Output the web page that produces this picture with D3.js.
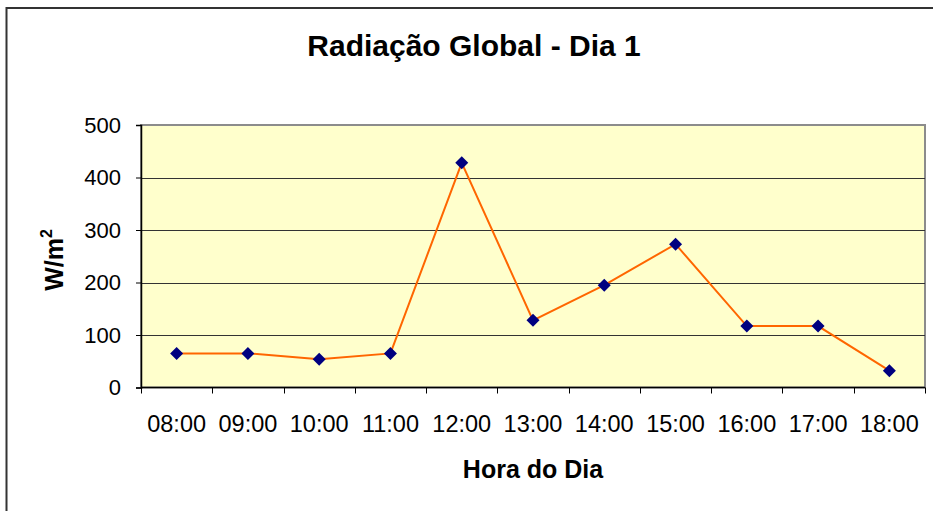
<!DOCTYPE html>
<html>
<head>
<meta charset="utf-8">
<script src="https://cdn.jsdelivr.net/npm/d3@7"></script>
<style>
  html, body { margin: 0; padding: 0; background: #fff; }
  svg { display: block; font-family: "Liberation Sans", Arial, sans-serif; }
</style>
</head>
<body>
<svg id="chart" width="933" height="511"></svg>
<script>
// Hourly global radiation, day 1
const hours = ["08:00", "09:00", "10:00", "11:00", "12:00", "13:00", "14:00", "15:00", "16:00", "17:00", "18:00"];
const radiation = [65, 65, 54, 65, 428, 128, 195, 273, 117, 117, 32];
const yTicks = [0, 100, 200, 300, 400, 500];

const svg = d3.select("#chart");
const W = 933, H = 511;
const plot = { left: 141, top: 125, right: 925, bottom: 387.5 };

// chart frame
svg.append("rect").attr("x", 6.5).attr("y", 8).attr("width", W).attr("height", H)
  .attr("fill", "#fff").attr("stroke", "#333").attr("stroke-width", 2);

const x = d3.scaleBand().domain(hours).range([plot.left, plot.right]).padding(0);
const y = d3.scaleLinear().domain([0, 500]).range([plot.bottom, plot.top]);

// plot area background
svg.append("rect")
  .attr("x", plot.left).attr("y", plot.top)
  .attr("width", plot.right - plot.left).attr("height", plot.bottom - plot.top)
  .attr("fill", "#FFFFCC").attr("stroke", "#8c8c8c").attr("stroke-width", 2);

// horizontal gridlines
svg.append("g").selectAll("line").data(yTicks.filter(d => d > 0 && d < 500)).join("line")
  .attr("x1", plot.left).attr("x2", plot.right)
  .attr("y1", d => Math.round(y(d)) + 0.5).attr("y2", d => Math.round(y(d)) + 0.5)
  .attr("stroke", "#333").attr("stroke-width", 1);

// y axis
const yAxis = svg.append("g").attr("transform", `translate(${plot.left},0)`)
  .call(d3.axisLeft(y).tickValues(yTicks).tickSize(5).tickPadding(15));
yAxis.select(".domain").attr("stroke", "#000").attr("stroke-width", 1.5);
yAxis.selectAll(".tick line").attr("stroke", "#000");
yAxis.selectAll(".tick text").attr("font-size", 22).attr("fill", "#000")
  .attr("font-family", "Liberation Sans, Arial, sans-serif");

// x axis: ticks on category boundaries
const xAxisG = svg.append("g").attr("transform", `translate(0,${plot.bottom})`);
xAxisG.append("line").attr("x1", plot.left).attr("x2", plot.right)
  .attr("stroke", "#000").attr("stroke-width", 1.5);
const bounds = hours.map(h => x(h)).concat([x(hours[hours.length - 1]) + x.bandwidth()]);
xAxisG.selectAll("line.tk").data(bounds).join("line").attr("class", "tk")
  .attr("x1", d => Math.round(d) + 0.5).attr("x2", d => Math.round(d) + 0.5)
  .attr("y1", 0).attr("y2", 6).attr("stroke", "#000");
xAxisG.selectAll("text").data(hours).join("text")
  .attr("x", d => x(d) + x.bandwidth() / 2).attr("y", 44)
  .attr("text-anchor", "middle").attr("font-size", 23.5).attr("fill", "#000")
  .text(d => d);

// series line
const cx = d => x(d) + x.bandwidth() / 2;
svg.append("path").datum(hours.map((h, i) => [cx(h), y(radiation[i])]))
  .attr("d", d3.line())
  .attr("fill", "none").attr("stroke", "#FF6600").attr("stroke-width", 2);

// diamond markers
svg.append("g").selectAll("path").data(hours).join("path")
  .attr("transform", (h, i) => `translate(${cx(h)},${y(radiation[i])})`)
  .attr("d", "M0,-6.5L6.5,0L0,6.5L-6.5,0Z")
  .attr("fill", "#000080");

// titles
svg.append("text").attr("x", 474).attr("y", 56).attr("text-anchor", "middle")
  .attr("font-size", 30).attr("font-weight", "bold").text("Radiação Global - Dia 1");

svg.append("text").attr("x", 533).attr("y", 477.5).attr("text-anchor", "middle")
  .attr("font-size", 25).attr("font-weight", "bold").text("Hora do Dia");

const yt = svg.append("text").attr("transform", "translate(63,260) rotate(-90)")
  .attr("text-anchor", "middle").attr("font-size", 25).attr("font-weight", "bold");
yt.append("tspan").text("W/m");
yt.append("tspan").attr("font-size", 16).attr("dy", -11).text("2");
</script>
</body>
</html>
